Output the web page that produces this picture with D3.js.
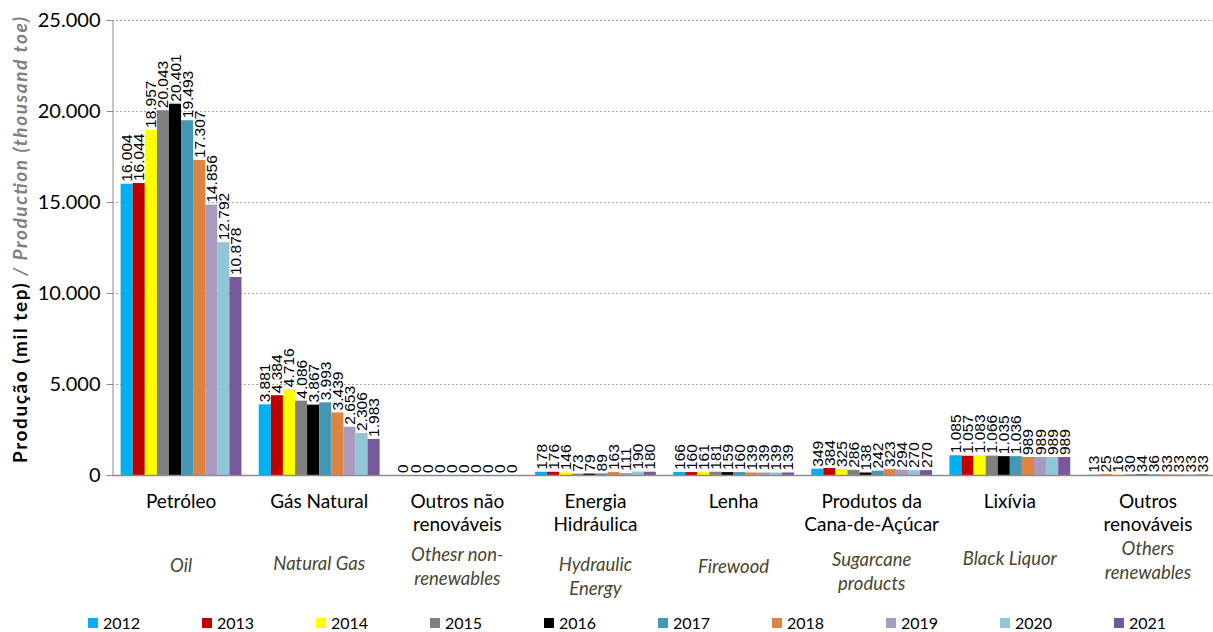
<!DOCTYPE html>
<html><head><meta charset="utf-8">
<script src="https://cdn.jsdelivr.net/npm/d3@7"></script>
<style>body{margin:0;background:#fff}svg{display:block}</style>
</head><body><svg id="c" width="1213" height="632"></svg>
<script>
const years = ["2012","2013","2014","2015","2016","2017","2018","2019","2020","2021"];
const colors = ["#00B0F0","#C00000","#FFFF00","#808080","#000000","#4298B5","#DD8444","#A99BBD","#92C5D8","#77589A"];
const categoriesPt = [["Petróleo"],["Gás Natural"],["Outros não","renováveis"],["Energia","Hidráulica"],["Lenha"],["Produtos da","Cana-de-Açúcar"],["Lixívia"],["Outros","renováveis"]];
const categoriesEn = [["Oil"],["Natural Gas"],["Othesr non-","renewables"],["Hydraulic","Energy"],["Firewood"],["Sugarcane","products"],["Black Liquor"],["Others","renewables"]];
const petroleo = [16004,16044,18957,20043,20401,19493,17307,14856,12792,10878];
const gasNatural = [3881,4384,4716,4086,3867,3993,3439,2653,2306,1983];
const outrosNaoRenov = [0,0,0,0,0,0,0,0,0,0];
const hidraulica = [178,176,146,73,79,89,163,111,190,180];
const lenha = [166,160,161,181,159,160,139,139,139,139];
const cana = [349,384,325,286,138,242,323,294,270,270];
const lixivia = [1085,1057,1083,1066,1035,1036,989,989,989,989];
const outrosRenov = [13,25,16,30,34,36,33,33,33,33];
const yTicks = [0,5000,10000,15000,20000,25000];

(function(){
const series = [petroleo,gasNatural,outrosNaoRenov,hidraulica,lenha,cana,lixivia,outrosRenov];
const svg = d3.select("#c");
const pl = 112, pr = 1217, pt = 20, pb = 475;
const fmt = v => d3.format(",")(v).replace(/,/g,".");
const FF = "Lato, 'Open Sans', sans-serif";

const x0 = d3.scaleBand().domain(d3.range(8)).range([pl,pr]).paddingInner(0.125).paddingOuter(0.0625);
const x1 = d3.scaleBand().domain(years).range([0,x0.bandwidth()]);
const y = d3.scaleLinear().domain([0,25000]).range([pb,pt]);

svg.append("g").selectAll("line").data(yTicks.filter(d=>d>0)).join("line")
  .attr("x1",pl).attr("x2",1213).attr("y1",d=>y(d)+0.5).attr("y2",d=>y(d)+0.5)
  .attr("stroke","#a6a6a6").attr("stroke-dasharray","2,2").attr("stroke-width",1);

const ya = svg.append("g").attr("transform",`translate(${pl+0.5},0)`)
  .call(d3.axisLeft(y).tickValues(yTicks).tickFormat(fmt).tickSize(6).tickPadding(6));
ya.select(".domain").attr("stroke","#8c8c8c");
ya.selectAll(".tick line").attr("stroke","#8c8c8c");
ya.selectAll("text").attr("font-family",FF).attr("font-size",20).attr("fill","#000");

const g = svg.append("g");
series.forEach((vals,ci)=>{
  const gg = g.append("g").attr("transform",`translate(${x0(ci)},0)`);
  gg.selectAll("rect").data(vals).join("rect")
    .attr("x",(d,i)=>x1(years[i])).attr("width",x1.bandwidth())
    .attr("y",d=>y(d)).attr("height",d=>pb-y(d))
    .attr("fill",(d,i)=>colors[i]);
  gg.selectAll("text").data(vals).join("text")
    .attr("transform",(d,i)=>`translate(${x1(years[i])+x1.bandwidth()/2+5.5},${y(d)-2}) rotate(-90)`)
    .attr("font-family","'Liberation Sans', Arial, sans-serif").attr("font-size",15.5)
    .attr("fill","#000").text(d=>fmt(d));
});

svg.append("line").attr("x1",pl).attr("x2",1213).attr("y1",pb+0.5).attr("y2",pb+0.5)
  .attr("stroke","#8c8c8c").attr("stroke-width",1.5);

categoriesPt.forEach((lines,ci)=>{
  const cx = x0(ci)+x0.bandwidth()/2;
  const t = svg.append("text").attr("x",cx).attr("text-anchor","middle")
    .attr("font-family",FF).attr("font-size",19).attr("fill","#000");
  lines.forEach((l,i)=>t.append("tspan").attr("x",cx).attr("y",508+i*23).text(l));
});
const enY = [572,570,561,571,573,566,565,555];
categoriesEn.forEach((lines,ci)=>{
  const cx = x0(ci)+x0.bandwidth()/2;
  const t = svg.append("text").attr("x",cx).attr("text-anchor","middle")
    .attr("font-family",FF).attr("font-size",18.5).attr("font-style","italic").attr("fill","#4a4630");
  lines.forEach((l,i)=>t.append("tspan").attr("x",cx).attr("y",enY[ci]+i*24).text(l));
});

const yt = svg.append("text").attr("transform","translate(27,240) rotate(-90)").attr("text-anchor","middle")
  .attr("font-family",FF).attr("font-size",19).attr("font-weight","bold")
  .attr("textLength",446).attr("lengthAdjust","spacing");
yt.append("tspan").attr("fill","#000").text("Produção (mil tep)");
yt.append("tspan").attr("fill","#808080").attr("font-style","italic").text(" / Production (thousand toe)");

const lg = svg.append("g").selectAll("g").data(years).join("g")
  .attr("transform",(d,i)=>`translate(${88+i*114},618)`);
lg.append("rect").attr("width",10).attr("height",10).attr("fill",(d,i)=>colors[i]);
lg.append("text").attr("x",15).attr("y",10.5).attr("font-family",FF)
  .attr("font-size",16).attr("fill","#000").text(d=>d);
})();
</script></body></html>
